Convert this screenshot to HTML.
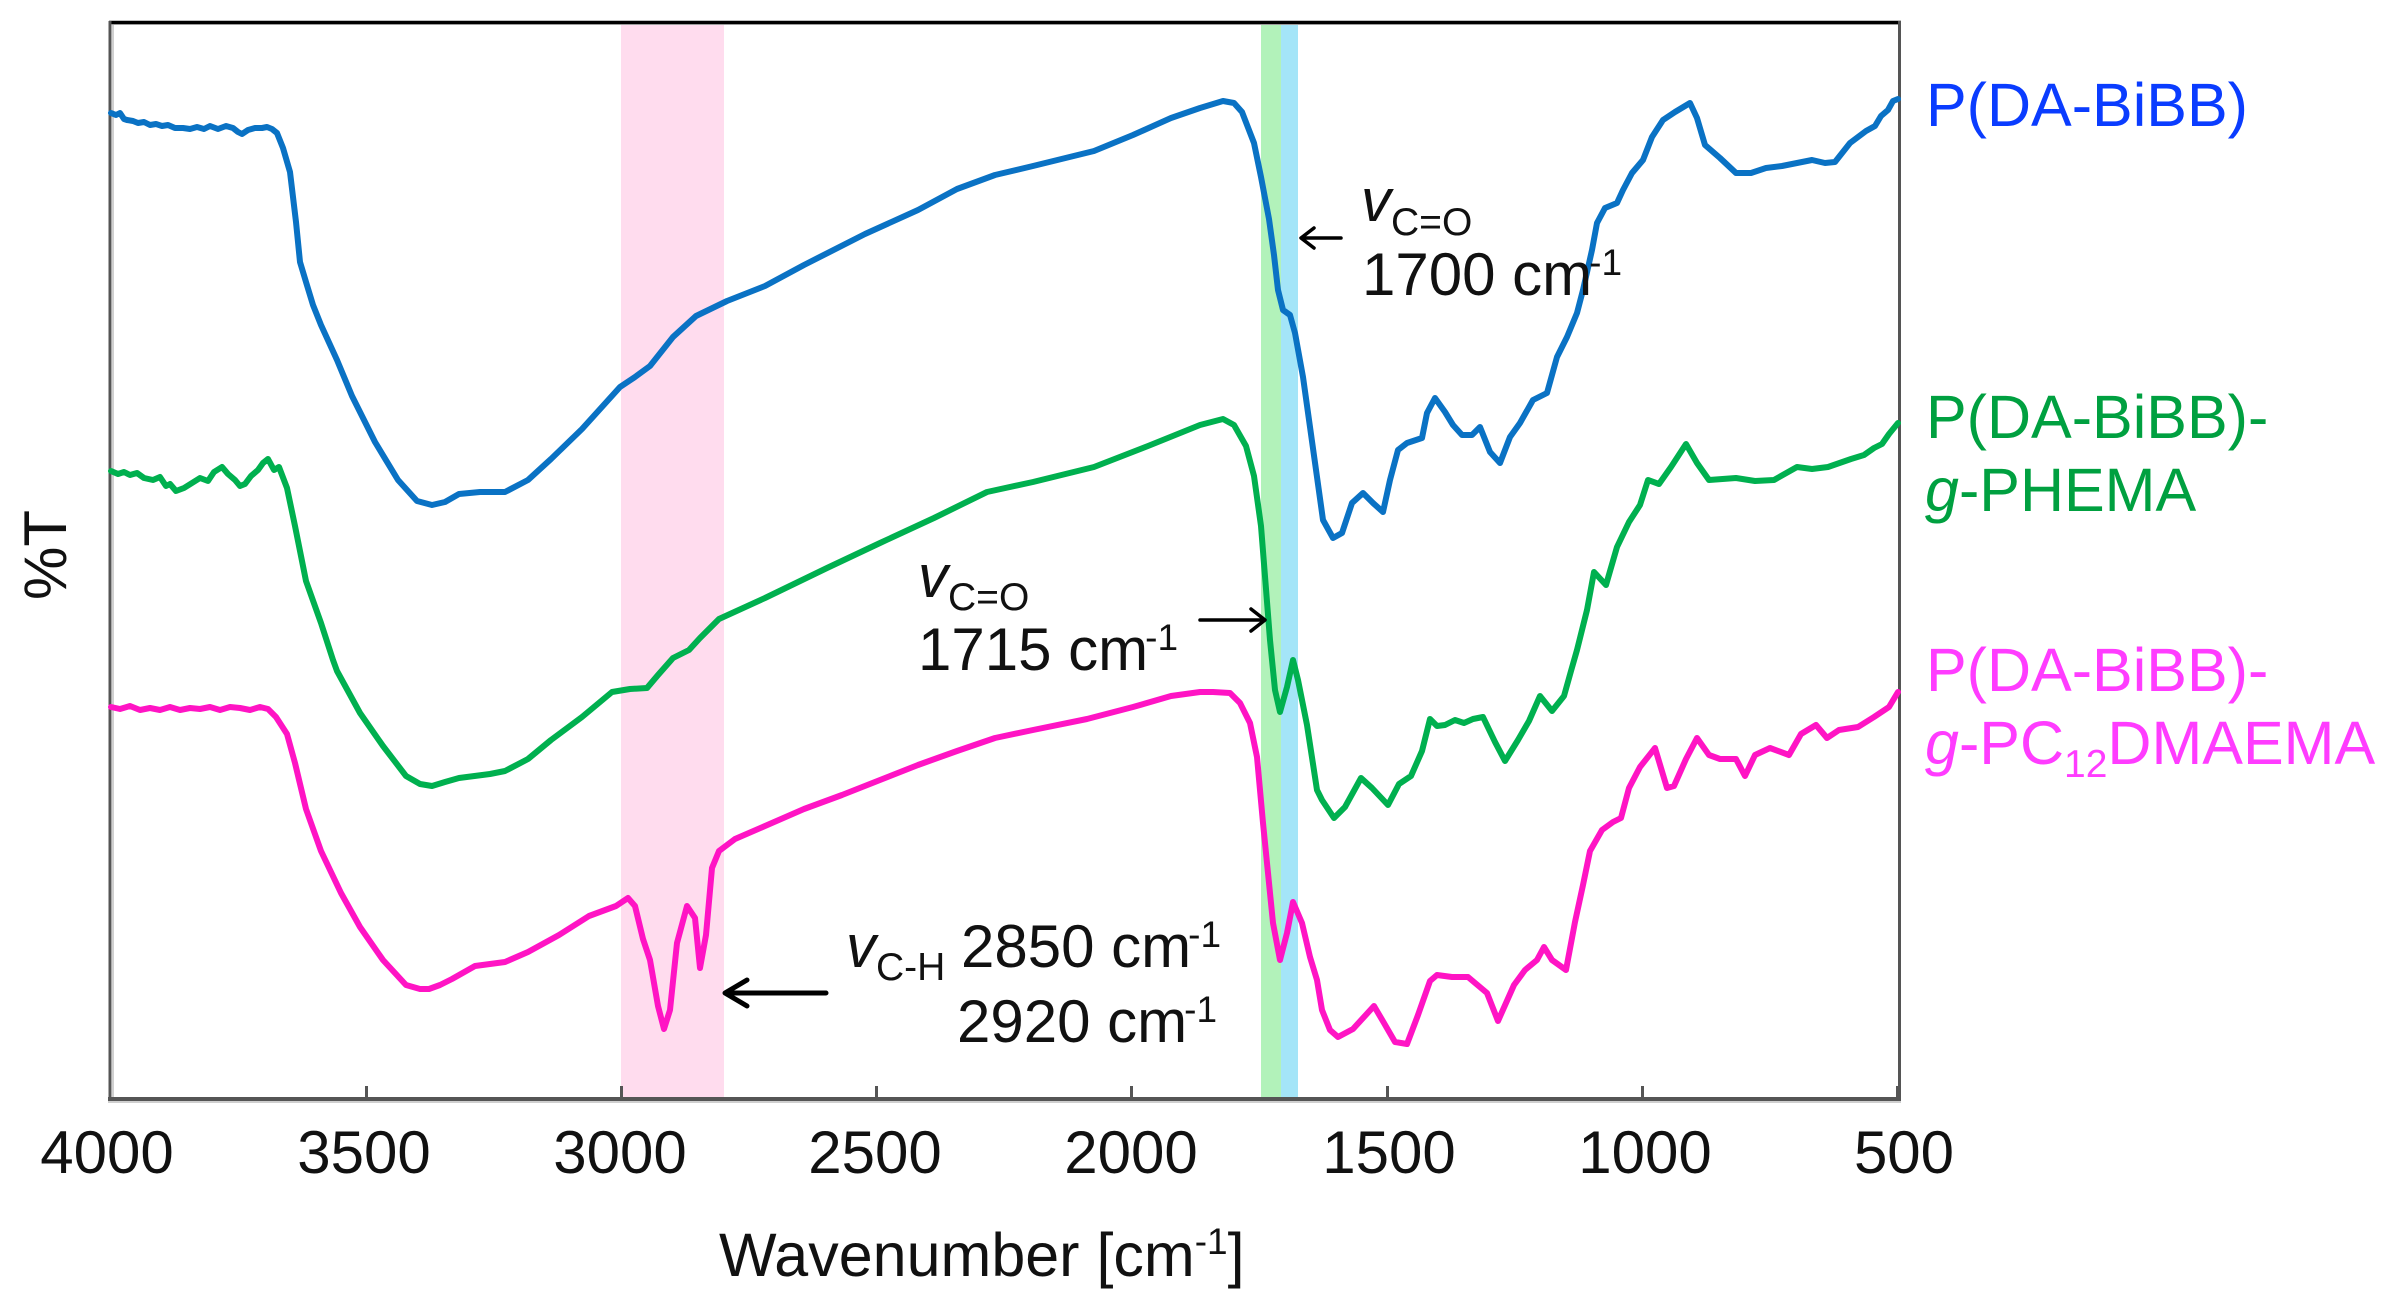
<!DOCTYPE html>
<html>
<head>
<meta charset="utf-8">
<style>
  html, body { margin: 0; padding: 0; background: #ffffff; }
  body { width: 2400px; height: 1307px; overflow: hidden; }
  svg { display: block; }
  text { font-family: "Liberation Sans", Arial, sans-serif; }
</style>
</head>
<body>
<svg width="2400" height="1307" viewBox="0 0 2400 1307" xmlns="http://www.w3.org/2000/svg">
  <rect x="0" y="0" width="2400" height="1307" fill="#ffffff"/>

  <!-- highlight bands -->
  <rect x="621" y="22" width="103" height="1080" fill="#ffdcee"/>
  <rect x="1261" y="22" width="20" height="1080" fill="#b2f2ba"/>
  <rect x="1281" y="22" width="17" height="1080" fill="#a4e5f8"/>

  <!-- frame -->
  <line x1="113" y1="24" x2="1898" y2="24" stroke="#d0d0d0" stroke-width="2"/>
  <line x1="113" y1="24" x2="113" y2="1097" stroke="#d0d0d0" stroke-width="2"/>
  <line x1="109" y1="22.5" x2="1901" y2="22.5" stroke="#000000" stroke-width="3.5"/>
  <line x1="110" y1="21" x2="110" y2="1101" stroke="#555555" stroke-width="3"/>
  <line x1="1899.5" y1="21" x2="1899.5" y2="1101" stroke="#555555" stroke-width="3"/>
  <line x1="108" y1="1099" x2="1901" y2="1099" stroke="#555555" stroke-width="4"/>
  <line x1="108" y1="1102" x2="1901" y2="1102" stroke="#cfcfcf" stroke-width="2"/>

  <!-- ticks -->
  <g stroke="#555555" stroke-width="3">
    <line x1="366.5" y1="1086" x2="366.5" y2="1099"/>
    <line x1="621.5" y1="1086" x2="621.5" y2="1099"/>
    <line x1="876.5" y1="1086" x2="876.5" y2="1099"/>
    <line x1="1131.5" y1="1086" x2="1131.5" y2="1099"/>
    <line x1="1387.5" y1="1086" x2="1387.5" y2="1099"/>
    <line x1="1642.5" y1="1086" x2="1642.5" y2="1099"/>
    <line x1="1897.5" y1="1086" x2="1897.5" y2="1099"/>
  </g>

  <!-- spectra -->
  <g fill="none" stroke-width="6" stroke-linejoin="round" stroke-linecap="round">
    <!-- blue: P(DA-BiBB) -->
    <path stroke="#0a72c4" d="M111,113 L116,115 L120,113 L124,119 L127,120 L133,121 L138,123 L144,122 L150,125 L156,124 L162,126 L168,125 L175,128 L183,128 L190,129 L197,127 L204,129 L210,126 L218,129 L226,126 L233,128 L238,132 L242,134 L248,130 L255,128 L262,128 L267,127 L272,129 L277,133 L283,148 L290,172 L296,222 L300,262 L306,282 L313,305 L321,325 L337,360 L352,396 L375,442 L398,480 L417,501 L432,505 L445,502 L459,494 L480,492 L505,492 L528,480 L551,459 L582,429 L620,387 L635,377 L650,366 L673,337 L696,316 L727,301 L765,286 L804,265 L865,234 L918,210 L957,189 L995,175 L1033,166 L1094,151 L1133,135 L1171,118 L1200,108 L1223,101 L1234,103 L1242,112 L1254,143 L1261,177 L1269,219 L1274,255 L1278,290 L1283,310 L1290,315 L1295,333 L1303,377 L1310,427 L1317,477 L1323,520 L1333,538 L1342,533 L1352,503 L1363,493 L1373,503 L1383,512 L1390,480 L1398,450 L1407,443 L1422,438 L1427,413 L1435,398 L1445,412 L1453,425 L1462,435 L1472,435 L1480,427 L1490,452 L1500,463 L1510,437 L1520,423 L1533,400 L1547,393 L1557,357 L1567,337 L1577,313 L1583,290 L1592,250 L1597,223 L1605,208 L1617,203 L1623,190 L1632,173 L1643,160 L1652,137 L1663,120 L1675,112 L1690,103 L1697,118 L1705,145 L1720,158 L1736,173 L1751,173 L1766,168 L1782,166 L1797,163 L1812,160 L1825,163 L1835,162 L1850,143 L1866,131 L1875,126 L1881,116 L1888,110 L1893,101 L1898,99"/>
    <!-- green: P(DA-BiBB)-g-PHEMA -->
    <path stroke="#00b04f" d="M111,471 L118,474 L124,472 L130,475 L137,473 L144,478 L153,480 L160,477 L166,486 L170,484 L176,491 L184,488 L192,483 L200,478 L208,481 L214,472 L222,467 L228,474 L235,480 L240,486 L245,484 L251,476 L258,470 L263,463 L268,459 L274,470 L279,467 L287,488 L295,526 L306,581 L321,623 L333,660 L337,671 L360,713 L383,746 L406,776 L420,784 L432,786 L445,782 L459,778 L490,774 L505,771 L528,759 L551,740 L582,717 L612,692 L630,689 L647,688 L658,675 L673,658 L689,650 L700,638 L719,619 L765,598 L827,568 L880,543 L934,518 L987,492 L1033,482 L1094,467 L1148,446 L1200,425 L1223,419 L1234,425 L1246,446 L1254,476 L1261,526 L1266,589 L1270,640 L1275,690 L1280,712 L1287,687 L1293,660 L1298,680 L1307,725 L1317,790 L1322,800 L1334,818 L1345,807 L1361,778 L1372,788 L1388,805 L1399,784 L1411,776 L1422,751 L1430,719 L1437,726 L1445,725 L1455,720 L1464,723 L1473,719 L1483,717 L1495,742 L1505,761 L1518,740 L1529,721 L1540,696 L1552,711 L1564,696 L1571,671 L1577,650 L1587,610 L1594,572 L1606,585 L1617,547 L1629,522 L1640,505 L1648,480 L1659,484 L1671,467 L1686,444 L1697,463 L1709,480 L1736,478 L1755,481 L1774,480 L1797,467 L1812,469 L1828,467 L1851,459 L1864,455 L1874,448 L1882,444 L1889,434 L1898,423"/>
    <!-- magenta: P(DA-BiBB)-g-PC12DMAEMA -->
    <path stroke="#ff14c4" d="M111,707 L120,709 L130,706 L140,710 L150,708 L160,710 L170,707 L180,710 L190,708 L200,709 L210,707 L220,710 L230,707 L240,708 L250,710 L260,707 L268,709 L276,717 L287,734 L295,763 L306,809 L321,851 L341,893 L360,927 L383,960 L406,985 L420,989 L429,989 L440,985 L452,979 L475,966 L505,962 L528,952 L559,935 L589,916 L616,906 L628,898 L635,906 L643,939 L650,960 L658,1006 L664,1029 L670,1010 L677,943 L687,906 L695,918 L700,968 L706,935 L712,868 L719,851 L735,839 L765,826 L804,809 L842,795 L880,780 L918,765 L957,751 L995,738 L1033,730 L1087,719 L1133,707 L1171,696 L1200,692 L1213,692 L1230,693 L1240,703 L1250,723 L1257,757 L1263,823 L1268,873 L1273,923 L1280,960 L1287,933 L1293,902 L1302,923 L1310,957 L1317,980 L1322,1010 L1330,1030 L1338,1037 L1353,1029 L1374,1006 L1384,1023 L1395,1042 L1407,1044 L1418,1015 L1430,981 L1437,975 L1452,977 L1468,977 L1487,993 L1498,1021 L1514,985 L1525,970 L1537,960 L1544,947 L1552,960 L1566,970 L1575,922 L1583,885 L1590,851 L1602,830 L1613,822 L1621,818 L1629,788 L1640,767 L1655,748 L1667,788 L1674,786 L1686,759 L1697,738 L1709,755 L1720,759 L1736,759 L1745,776 L1755,755 L1770,748 L1789,755 L1801,734 L1816,725 L1827,738 L1839,730 L1858,727 L1874,717 L1889,707 L1898,692"/>
  </g>

  <!-- annotation arrows -->
  <g fill="none" stroke="#000000" stroke-linecap="round" stroke-linejoin="round">
    <path d="M1341,238 L1302,238 M1314,228 L1301,238 L1314,248" stroke-width="3.5"/>
    <path d="M1200,620 L1264,620 M1251,609 L1265,620 L1251,631" stroke-width="3.5"/>
    <path d="M826,993 L728,993 M747,980 L725,993 L747,1006" stroke-width="5"/>
  </g>

  <!-- annotation text -->
  <g fill="#111111" font-size="60">
    <text x="1361" y="221"><tspan font-style="italic">v</tspan><tspan font-size="39" dy="14">C=O</tspan></text>
    <text x="1362" y="295">1700 cm<tspan font-size="37" dx="-3" dy="-20">-1</tspan></text>

    <text x="918" y="597"><tspan font-style="italic">v</tspan><tspan font-size="39" dy="13">C=O</tspan></text>
    <text x="918" y="670">1715 cm<tspan font-size="37" dx="-3" dy="-20">-1</tspan></text>

    <text x="846" y="967"><tspan font-style="italic">v</tspan><tspan font-size="39" dy="13">C-H</tspan></text>
    <text x="961" y="967">2850 cm<tspan font-size="37" dx="-3" dy="-20">-1</tspan></text>
    <text x="957" y="1042">2920 cm<tspan font-size="37" dx="-3" dy="-20">-1</tspan></text>
  </g>

  <!-- tick labels -->
  <g fill="#111111" font-size="60" text-anchor="middle">
    <text x="107" y="1173">4000</text>
    <text x="364" y="1173">3500</text>
    <text x="620" y="1173">3000</text>
    <text x="875" y="1173">2500</text>
    <text x="1131" y="1173">2000</text>
    <text x="1389" y="1173">1500</text>
    <text x="1645" y="1173">1000</text>
    <text x="1904" y="1173">500</text>
  </g>

  <!-- axis titles -->
  <text x="719" y="1276" font-size="61" fill="#111111">Wavenumber [cm<tspan font-size="37" dy="-22">-1</tspan><tspan dy="22">]</tspan></text>
  <text transform="translate(66,555) rotate(-90)" text-anchor="middle" font-size="60" fill="#111111">%T</text>

  <!-- series labels -->
  <g font-size="61">
    <text x="1926" y="126" fill="#0a3cff">P(DA-BiBB)</text>
    <text x="1926" y="438" fill="#00a040">P(DA-BiBB)-</text>
    <text x="1925" y="511" fill="#00a040"><tspan font-style="italic">g</tspan>-PHEMA</text>
    <text x="1926" y="691" fill="#ff3cff">P(DA-BiBB)-</text>
    <text x="1925" y="764" fill="#ff3cff"><tspan font-style="italic">g</tspan>-PC<tspan font-size="39" dy="13">12</tspan><tspan dy="-13">DMAEMA</tspan></text>
  </g>
</svg>
</body>
</html>
